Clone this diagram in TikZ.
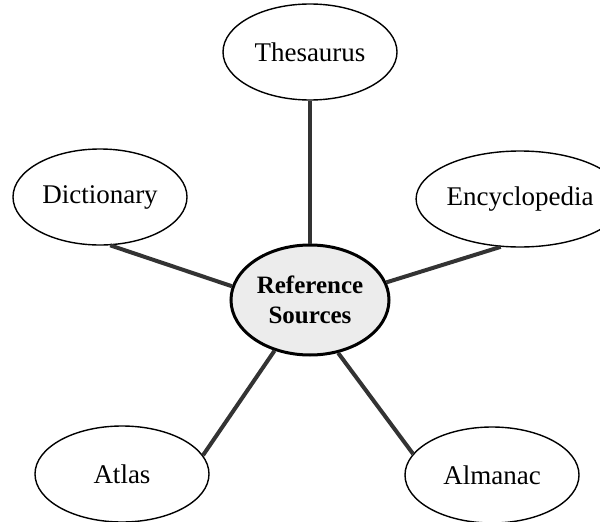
\documentclass[tikz,border=0pt]{standalone}
\usepackage{fontspec}
\setmainfont{Liberation Serif}
\usetikzlibrary{shapes.geometric}
\begin{document}
\begin{tikzpicture}[x=1pt, y=-1pt,
    topic/.style={draw, ellipse, line width=1.4pt, minimum width=174pt, minimum height=96pt, inner sep=0pt, font=\fontsize{27}{32}\selectfont},
    hub/.style={draw, ellipse, line width=3pt, fill=gray!15, minimum width=158pt, minimum height=110pt, inner sep=0pt, align=center, font=\bfseries\fontsize{25}{30}\selectfont},
    spoke/.style={line width=4pt, black!80}]
    \useasboundingbox (0,0) rectangle (600,522);
    % 中心
    \node[hub] (ref) at (310,300) {Reference\\Sources};
    % 周りの楕円
    \node[topic] (thes) at (310,52) {Thesaurus};
    \node[topic] (dict) at (100,197) {Dictionary};
    \node[topic] (ency) at (520,199) {Encyclopedia};
    \node[topic] (atlas) at (122,474) {Atlas};
    \node[topic] (alm) at (492,475) {Almanac};
    % 線
    \draw[spoke] (thes) -- (ref);
    \draw[spoke] (dict.-78) -- (ref.170);
    \draw[spoke] (ency.-112) -- (ref.13);
    \draw[spoke] (atlas.13) -- (ref.-125);
    \draw[spoke] (alm.165) -- (ref.-62);
\end{tikzpicture}
\end{document}
